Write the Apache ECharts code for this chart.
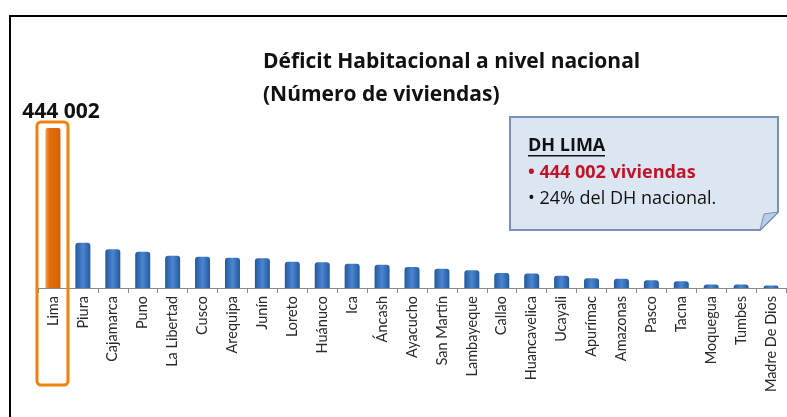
<!DOCTYPE html>
<html>
<head>
<meta charset="utf-8">
<script src="https://cdn.jsdelivr.net/npm/echarts@6/dist/echarts.min.js"></script>
<style>
  html, body { margin: 0; padding: 0; background: #fff; }
  #graph { width: 787px; height: 417px; }
</style>
</head>
<body>
<div id="graph"></div>
<script>
// regiones y déficit habitacional (número de viviendas)
var regiones = [
    "Lima", "Piura", "Cajamarca", "Puno", "La Libertad", "Cusco", "Arequipa",
    "Junín", "Loreto", "Huánuco", "Ica", "Áncash", "Ayacucho", "San Martín",
    "Lambayeque", "Callao", "Huancavelica", "Ucayali", "Apurímac", "Amazonas",
    "Pasco", "Tacna", "Moquegua", "Tumbes", "Madre De Dios"
];
var deficit = [
    444002, 125700, 107400, 100700, 89600, 86900, 84100,
    82400, 73000, 71300, 67400, 64700, 58300, 53600,
    49100, 41600, 40000, 34200, 26900, 26000,
    21400, 18600, 10000, 9500, 6600
];
var tituloLineas = ["Déficit Habitacional a nivel nacional", "(Número de viviendas)"];
var notaLineas = ["DH LIMA", "• 444 002 viviendas", "• 24% del DH nacional."];

var myChart = echarts.init(document.getElementById("graph"));

var azul = new echarts.graphic.LinearGradient(0, 0, 1, 0, [
    { offset: 0, color: "#24589e" },
    { offset: 0.5, color: "#4a86d0" },
    { offset: 1, color: "#24589e" }
]);
var naranja = new echarts.graphic.LinearGradient(0, 0, 1, 0, [
    { offset: 0, color: "#f3a35a" },
    { offset: 0.25, color: "#e46c0a" },
    { offset: 1, color: "#d8620a" }
]);

var option = {
    backgroundColor: "#fff",
    animation: false,
    grid: {
        left: 38,
        right: 1,
        top: 128,
        bottom: 129
    },
    xAxis: {
        type: "category",
        data: regiones,
        axisLine: { lineStyle: { color: "#8a8a8a", width: 1 } },
        axisTick: { show: true, length: 5, lineStyle: { color: "#8a8a8a" } },
        axisLabel: {
            rotate: 90,
            interval: 0,
            margin: 8,
            color: "#2a2a2a",
            fontFamily: "Lato",
            fontSize: 14.5
        }
    },
    yAxis: {
        type: "value",
        min: 0,
        max: "dataMax",
        show: false,
        splitLine: { show: false }
    },
    series: [
        {
            name: "DH",
            type: "bar",
            barWidth: 15,
            data: deficit.map(function (v, i) {
                if (i === 0) {
                    return {
                        value: v,
                        itemStyle: { color: naranja, borderRadius: [2, 2, 0, 0] },
                        label: {
                            show: true,
                            position: "top",
                            distance: 5,
                            offset: [8, 0],
                            formatter: "444 002",
                            color: "#111",
                            fontFamily: "Open Sans",
                            fontWeight: "bold",
                            fontSize: 21
                        }
                    };
                }
                return v;
            }),
            itemStyle: { color: azul, borderRadius: [3, 3, 0, 0] }
        }
    ]
};
myChart.setOption(option);

// recuadro de Lima y notas, ubicados a partir de las escalas del gráfico
var pLima = myChart.convertToPixel({ xAxisIndex: 0, yAxisIndex: 0 }, ["Lima", deficit[0]]);
var pBase = myChart.convertToPixel({ xAxisIndex: 0, yAxisIndex: 0 }, ["Lima", 0]);

function texto(str, x, y, font, color) {
    return {
        type: "text",
        x: x,
        y: y,
        style: { text: str, font: font, fill: color, verticalAlign: "middle" }
    };
}

myChart.setOption({
    graphic: [
        {
            // marco
            type: "rect",
            shape: { x: 10, y: 16, width: 800, height: 420 },
            style: { fill: "none", stroke: "#000", lineWidth: 2 },
            silent: true
        },
        {
            type: "rect",
            shape: { x: pLima[0] - 16, y: pLima[1] - 6, width: 31, height: (pBase[1] - pLima[1]) + 103, r: 4 },
            style: { fill: "none", stroke: "#f0820f", lineWidth: 3 },
            z: 10
        },
        texto(tituloLineas[0], 263, 62, "bold 21px 'Open Sans'", "#111"),
        texto(tituloLineas[1], 263, 95, "bold 21px 'Open Sans'", "#111"),
        {
            // nota con esquina doblada
            type: "polygon",
            shape: { points: [[510, 117], [778, 117], [778, 212], [760, 230], [510, 230]] },
            style: { fill: "#dce6f2", stroke: "#7891b6", lineWidth: 2 }
        },
        {
            type: "polygon",
            shape: { points: [[778, 212], [760, 230], [764, 214]] },
            style: { fill: "#b9cde6", stroke: "#7891b6", lineWidth: 1 }
        },
        texto(notaLineas[0], 528, 146, "bold 18px 'Open Sans'", "#111"),
        {
            type: "rect",
            shape: { x: 528, y: 155, width: 77, height: 1.5 },
            style: { fill: "#111" }
        },
        texto(notaLineas[1], 528, 173, "bold 18px 'Open Sans'", "#c0142a"),
        texto(notaLineas[2], 528, 199, "18px 'Open Sans'", "#111")
    ]
});
</script>
</body>
</html>
